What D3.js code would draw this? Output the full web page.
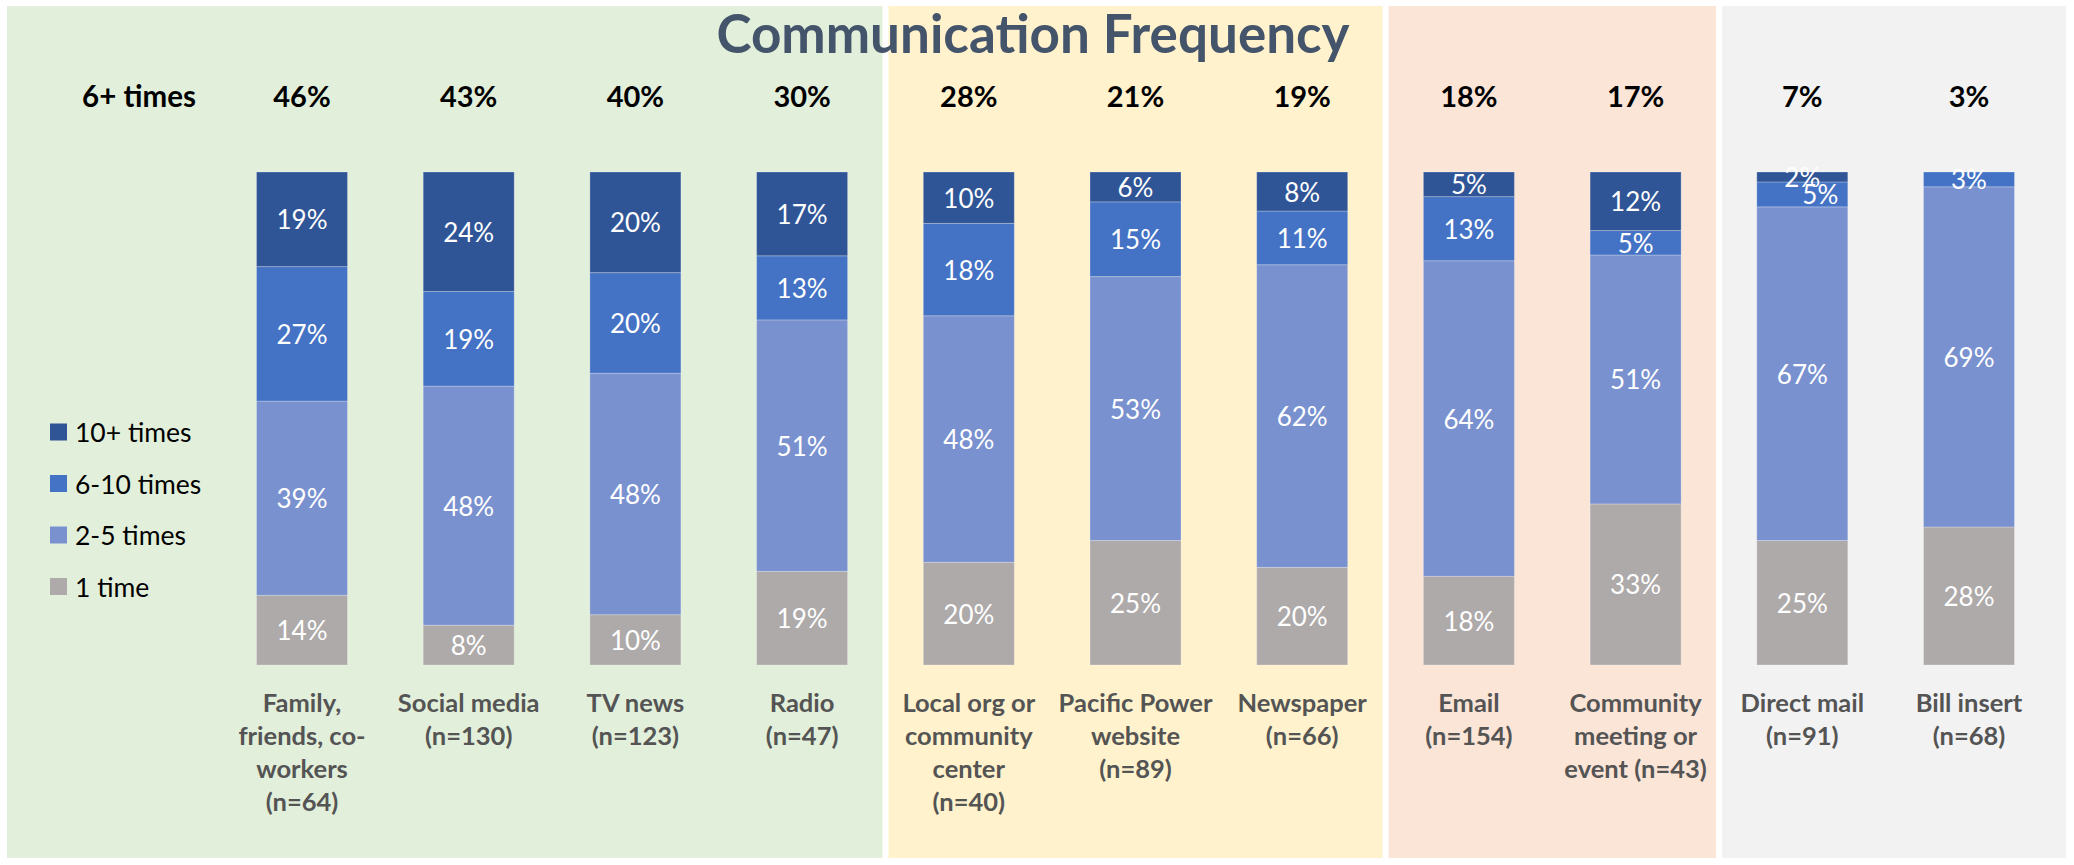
<!DOCTYPE html>
<html>
<head>
<meta charset="utf-8">
<script src="https://cdn.jsdelivr.net/npm/d3@7"></script>
<style>
  body { margin: 0; background: #fff; }
  svg { display: block; font-family: Lato, "Open Sans", sans-serif; }
</style>
</head>
<body>
<svg id="chart" width="2074" height="865"></svg>
<script>
// data
var categories = ["Family", "Social media", "TV news", "Radio", "Local org", "Pacific Power",
                  "Newspaper", "Email", "Community", "Direct mail", "Bill insert"];
var categoryLines = [
  ["Family,", "friends, co-", "workers", "(n=64)"],
  ["Social media", "(n=130)"],
  ["TV news", "(n=123)"],
  ["Radio", "(n=47)"],
  ["Local org or", "community", "center", "(n=40)"],
  ["Pacific Power", "website", "(n=89)"],
  ["Newspaper", "(n=66)"],
  ["Email", "(n=154)"],
  ["Community", "meeting or", "event (n=43)"],
  ["Direct mail", "(n=91)"],
  ["Bill insert", "(n=68)"]
];
var sixPlus   = [46, 43, 40, 30, 28, 21, 19, 18, 17, 7, 3];
var tenPlus   = [19, 24, 20, 17, 10, 6, 8, 5, 12, 2, 0];
var sixToTen  = [27, 19, 20, 13, 18, 15, 11, 13, 5, 5, 3];
var twoToFive = [39, 48, 48, 51, 48, 53, 62, 64, 51, 67, 69];
var oneTime   = [14, 8, 10, 19, 20, 25, 20, 18, 33, 25, 28];
var groupOf   = [0, 0, 0, 0, 1, 1, 1, 2, 2, 3, 3];

var keys = ["1 time", "2-5 times", "6-10 times", "10+ times"];
var colors = { "10+ times": "#2F5597", "6-10 times": "#4472C4", "2-5 times": "#7A91CF", "1 time": "#AEAAAA" };
var panelColors = ["#E2EFDA", "#FFF2CC", "#FBE5D6", "#F2F2F2"];

var W = 2074, H = 865;
var svg = d3.select("#chart");

var rows = categories.map(function(c, i) {
  return { cat: c, "1 time": oneTime[i], "2-5 times": twoToFive[i], "6-10 times": sixToTen[i], "10+ times": tenPlus[i] };
});

var x = d3.scalePoint().domain(categories).range([302, 1969]);
var y = d3.scaleLinear().domain([0, 1]).range([665, 172]);
var barW = 91;
var step = x.step();

// background panels, one per group
var groups = d3.groups(categories.map(function(c, i) { return { c: c, g: groupOf[i] }; }), function(d) { return d.g; });
function panelLeft(d, i) { return i == 0 ? 7 : x(d[1][0].c) - step / 2 + 3; }
function panelRight(d, i) { return i == groups.length - 1 ? W - 8 : x(d[1][d[1].length - 1].c) + step / 2 - 3; }
svg.selectAll(".panel")
  .data(groups)
  .enter()
  .append("rect")
  .attr("class", "panel")
  .attr("x", panelLeft)
  .attr("width", function(d, i) { return panelRight(d, i) - panelLeft(d, i); })
  .attr("y", 6)
  .attr("height", 852)
  .attr("fill", function(d) { return panelColors[d[0]]; });

// title
svg.append("text")
  .attr("x", W / 2 - 4).attr("y", 53)
  .attr("text-anchor", "middle")
  .attr("font-size", 53).attr("font-weight", "bold")
  .attr("fill", "#44546A")
  .text("Communication Frequency");

// 6+ times row
svg.append("text")
  .attr("x", 139).attr("y", 95)
  .attr("text-anchor", "middle").attr("dominant-baseline", "central")
  .attr("font-size", 29.5).attr("font-weight", "bold")
  .text("6+ times");
svg.selectAll(".top")
  .data(categories)
  .enter()
  .append("text")
  .attr("class", "top")
  .attr("x", function(d) { return x(d); }).attr("y", 95)
  .attr("text-anchor", "middle").attr("dominant-baseline", "central")
  .attr("font-size", 29).attr("font-weight", "bold")
  .text(function(d, i) { return sixPlus[i] + "%"; });

// stacked bars (100%)
var series = d3.stack().keys(keys).offset(d3.stackOffsetExpand)(rows);

var layer = svg.selectAll(".layer")
  .data(series)
  .enter()
  .append("g")
  .attr("class", "layer")
  .attr("fill", function(d) { return colors[d.key]; });

layer.selectAll("rect")
  .data(function(d) { return d; })
  .enter()
  .append("rect")
  .attr("x", function(d) { return x(d.data.cat) - barW / 2; })
  .attr("y", function(d) { return y(d[1]); })
  .attr("width", barW)
  .attr("height", function(d) { return y(d[0]) - y(d[1]); })
  .attr("stroke", "rgba(255,255,255,0.25)")
  .attr("stroke-width", 1);

// value labels, nudged right when they collide with the label above
var labels = [];
series.forEach(function(s) {
  s.forEach(function(d) {
    var v = d.data[s.key];
    if (v > 0) labels.push({ cat: d.data.cat, v: v, cy: (y(d[0]) + y(d[1])) / 2 });
  });
});
d3.groups(labels, function(d) { return d.cat; }).forEach(function(g) {
  var ls = g[1];
  for (var i = 0; i < ls.length; i++) {
    ls[i].dx = 0;
    if (i + 1 < ls.length && ls[i + 1].cy > ls[i].cy - 22) ls[i].dx = 18;
  }
});
svg.selectAll(".val")
  .data(labels)
  .enter()
  .append("text")
  .attr("class", "val")
  .attr("x", function(d) { return x(d.cat) + d.dx; })
  .attr("y", function(d) { return d.cy; })
  .attr("text-anchor", "middle").attr("dominant-baseline", "central")
  .attr("font-size", 26).attr("fill", "#fff")
  .text(function(d) { return d.v + "%"; });

// category labels
svg.selectAll(".cat")
  .data(categories)
  .enter()
  .append("text")
  .attr("class", "cat")
  .attr("text-anchor", "middle")
  .attr("font-size", 25.5).attr("font-weight", "bold")
  .attr("fill", "#545454")
  .each(function(d, i) {
    d3.select(this).selectAll("tspan")
      .data(categoryLines[i])
      .enter()
      .append("tspan")
      .attr("x", x(d))
      .attr("y", function(l, j) { return 702 + j * 33; })
      .attr("dominant-baseline", "central")
      .text(function(l) { return l; });
  });

// legend
var legendKeys = keys.slice().reverse();
var legend = svg.selectAll(".leg")
  .data(legendKeys)
  .enter()
  .append("g")
  .attr("class", "leg")
  .attr("transform", function(d, i) { return "translate(50," + (432 + i * 51.5) + ")"; });
legend.append("rect")
  .attr("x", 0).attr("y", -8.5)
  .attr("width", 17).attr("height", 17)
  .attr("fill", function(d) { return colors[d]; });
legend.append("text")
  .attr("x", 25).attr("y", 0)
  .attr("dominant-baseline", "central")
  .attr("font-size", 26.5).attr("fill", "#000")
  .text(function(d) { return d; });
</script>
</body>
</html>
